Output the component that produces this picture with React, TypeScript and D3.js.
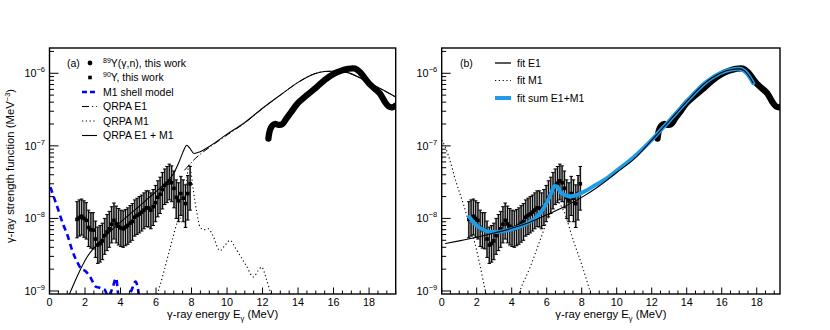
import React from 'react';
import * as d3 from 'd3';

// ---------- data ----------
// 89Y(gamma,n), this work (thick curve)
const gnE = [12.33, 12.42, 12.55, 12.7, 12.9, 13.1, 13.35, 13.6, 14.0, 14.5, 15.0, 15.5, 16.0, 16.4, 16.8, 17.2, 17.5, 17.8, 18.0, 18.3, 18.6, 18.9, 19.1, 19.3, 19.5];
const gnV = [1.26e-7, 1.65e-7, 1.9e-7, 2.0e-7, 1.95e-7, 1.98e-7, 2.4e-7, 2.9e-7, 3.9e-7, 5.0e-7, 6.3e-7, 8.1e-7, 9.8e-7, 1.08e-6, 1.15e-6, 1.16e-6, 1.03e-6, 8.3e-7, 7.2e-7, 6.2e-7, 5.3e-7, 4.0e-7, 3.5e-7, 3.4e-7, 3.6e-7];

// 90Y, this work (units of 1e-9 MeV^-3)
const yE = [1.55, 1.68, 1.81, 1.94, 2.07, 2.2, 2.33, 2.46, 2.59, 2.72, 2.85, 2.98, 3.11, 3.24, 3.37, 3.5, 3.63, 3.76, 3.89, 4.02, 4.15, 4.28, 4.41, 4.54, 4.67, 4.8, 4.93, 5.06, 5.19, 5.32, 5.45, 5.58, 5.71, 5.84, 5.97, 6.1, 6.23, 6.36, 6.49, 6.62, 6.75, 6.88, 7.01, 7.14, 7.27, 7.4, 7.53, 7.66, 7.79, 7.92];
const yV = [9.7, 10.3, 10.7, 10.0, 9.4, 7.5, 7.0, 6.9, 5.2, 4.3, 4.5, 4.9, 5.8, 6.5, 7.2, 8.3, 9.4, 8.4, 7.8, 7.4, 7.2, 7.6, 8.0, 8.6, 9.1, 10.4, 11.0, 11.5, 12.2, 13.0, 14.0, 13.9, 13.0, 14.5, 16.5, 19.5, 21.5, 25, 28.5, 30.5, 33, 31, 26, 19.5, 17.5, 22, 19, 16, 22, 30];
const yUp = [17, 18, 18.5, 17.5, 16.5, 13, 12, 12, 9.2, 7.6, 8, 8.6, 10, 11.3, 12.5, 14.5, 16.3, 14.8, 13.7, 13, 12.7, 13.3, 14, 15, 16, 18, 19, 20, 21, 22.5, 24, 24, 22.5, 25, 28.5, 33, 37, 43, 48, 52, 56, 53, 45, 34, 31, 38, 34, 29, 39, 52];
const yLo = [5.4, 5.7, 5.9, 5.5, 5.2, 4.1, 3.9, 3.8, 2.9, 2.4, 2.5, 2.7, 3.2, 3.6, 4.0, 4.6, 5.2, 4.6, 4.3, 4.1, 4.0, 4.2, 4.4, 4.7, 5.0, 5.7, 6.0, 6.3, 6.7, 7.2, 7.7, 7.6, 7.2, 8.0, 9.0, 10.5, 11.7, 13.5, 15.5, 16.5, 18, 17, 14, 10, 9, 11, 9, 7.5, 9.5, 13];
const UNIT = 1e-9;

// M1 shell model
const smE = [0.05, 0.3, 0.5, 0.75, 1.0, 1.3, 1.6, 1.8, 2.0, 2.3, 2.6, 2.9, 3.1, 3.3, 3.55, 3.75, 3.9, 4.4, 4.6, 4.85, 5.05];
const smV = [2.7e-8, 1.8e-8, 1.3e-8, 8.5e-9, 6.0e-9, 3.5e-9, 2.4e-9, 2.0e-9, 1.9e-9, 1.55e-9, 1.15e-9, 1.1e-9, 1.05e-9, 0.85e-9, 1.1e-9, 1.5e-9, 0.85e-9, 0.85e-9, 1.0e-9, 1.35e-9, 0.85e-9];

// QRPA E1
const qE1E = [7.6, 7.85, 8.1, 8.5, 9.0, 10.0, 11.0, 12.0, 13.0, 14.0, 14.9, 15.5, 16.2, 16.8, 17.5, 18.0, 18.6, 19.5];
const qE1V = [4.6e-8, 5.4e-8, 6.3e-8, 7.7e-8, 9.5e-8, 1.41e-7, 2.07e-7, 3.28e-7, 5.0e-7, 7.5e-7, 9.8e-7, 1.06e-6, 1.07e-6, 1.02e-6, 8.6e-7, 7.3e-7, 6.2e-7, 4.7e-7];

// QRPA M1
const qM1E = [6.0, 6.13, 6.4, 6.7, 7.0, 7.17, 7.45, 7.6, 7.73, 7.87, 7.97, 8.1, 8.3, 8.48, 8.7, 8.95, 9.2, 9.6, 9.9, 10.17, 10.45, 10.73, 11.1, 11.48, 11.75, 11.95, 12.2, 12.42, 12.6];
const qM1V = [0.8e-9, 1.0e-9, 1.7e-9, 3.2e-9, 6.0e-9, 8.5e-9, 1.1e-8, 1.8e-8, 3.4e-8, 5.7e-8, 4.3e-8, 2.45e-8, 1.2e-8, 7.6e-9, 7.0e-9, 7.2e-9, 5.8e-9, 3.6e-9, 4.3e-9, 5.0e-9, 4.0e-9, 3.1e-9, 2.2e-9, 1.56e-9, 1.9e-9, 2.14e-9, 1.5e-9, 1.0e-9, 0.7e-9];

// QRPA E1 + M1
const qSumE = [1.12, 1.4, 1.72, 2.1, 2.56, 3.0, 3.5, 4.0, 4.5, 5.1, 5.6, 6.1, 6.6, 7.0, 7.26, 7.5, 7.73, 7.9, 8.14, 8.48, 9.0, 10.0, 11.0, 12.0, 13.0, 14.0, 14.9, 15.5, 16.2, 16.8, 17.5, 18.0, 18.6, 19.5];
const qSumV = [0.9e-9, 1.3e-9, 1.93e-9, 2.9e-9, 4.05e-9, 5.3e-9, 6.9e-9, 8.9e-9, 1.13e-8, 1.5e-8, 1.93e-8, 2.45e-8, 3.18e-8, 4.2e-8, 5.7e-8, 8.0e-8, 1.02e-7, 9.3e-8, 7.85e-8, 8.3e-8, 9.8e-8, 1.45e-7, 2.1e-7, 3.3e-7, 5.0e-7, 7.5e-7, 9.8e-7, 1.06e-6, 1.07e-6, 1.02e-6, 8.6e-7, 7.3e-7, 6.2e-7, 4.7e-7];

// fit E1 (panel b)
const fE1E = [0.2, 1.0, 2.0, 3.0, 4.0, 5.0, 6.0, 7.0, 8.0, 9.0, 10.0, 11.0, 12.0, 13.0, 14.0, 15.0, 15.9, 16.5, 17.0, 17.3, 17.6, 17.8];
const fE1V = [4.5e-9, 4.9e-9, 5.5e-9, 6.3e-9, 7.3e-9, 8.8e-9, 1.12e-8, 1.45e-8, 1.95e-8, 2.8e-8, 4.3e-8, 6.6e-8, 1.2e-7, 2.2e-7, 4.1e-7, 7.2e-7, 1.0e-6, 1.12e-6, 1.15e-6, 1.08e-6, 8.8e-7, 7.3e-7];

// fit M1 (panel b): low-energy upbend and spin-flip bump
const fM1aE = [0.0, 0.19, 0.47, 0.8, 1.23, 1.6, 1.9, 2.2, 2.47, 2.6];
const fM1aV = [1.2e-7, 9.8e-8, 6.3e-8, 3.3e-8, 1.6e-8, 8.0e-9, 4.5e-9, 2.2e-9, 1.07e-9, 0.8e-9];
const fM1bE = [4.3, 4.47, 5.04, 5.62, 6.19, 6.55, 6.95, 7.52, 8.1, 8.47, 8.6];
const fM1bV = [0.75e-9, 1.0e-9, 2.1e-9, 5.0e-9, 1.17e-8, 1.75e-8, 1.3e-8, 5.0e-9, 1.95e-9, 1.0e-9, 0.8e-9];

// fit sum E1+M1 (panel b)
const fSumE = [1.58, 1.8, 2.0, 2.38, 2.76, 3.2, 3.52, 4.0, 4.47, 5.0, 5.43, 5.75, 6.0, 6.25, 6.45, 6.6, 6.76, 6.95, 7.14, 7.35, 7.6, 7.9, 8.29, 8.8, 9.43, 10.0, 11.0, 12.0, 13.0, 14.0, 15.0, 15.9, 16.5, 17.0, 17.3, 17.6, 17.8];
const fSumV = [1.05e-8, 8.9e-9, 7.9e-9, 7.0e-9, 6.5e-9, 6.5e-9, 6.7e-9, 7.1e-9, 7.7e-9, 8.9e-9, 1.05e-8, 1.3e-8, 1.65e-8, 2.2e-8, 2.8e-8, 2.75e-8, 2.35e-8, 2.15e-8, 2.05e-8, 2.02e-8, 2.05e-8, 2.2e-8, 2.45e-8, 2.9e-8, 3.55e-8, 4.55e-8, 7.1e-8, 1.21e-7, 2.21e-7, 4.1e-7, 7.2e-7, 1.0e-6, 1.12e-6, 1.15e-6, 1.08e-6, 8.8e-7, 7.3e-7];

const xTickVals = [0, 2, 4, 6, 8, 10, 12, 14, 16, 18];
const yDecades = [-9, -8, -7, -6];

const legendA = ['Y(γ,n), this work', 'Y, this work', 'M1 shell model', 'QRPA E1', 'QRPA M1', 'QRPA E1 + M1'];
const legendASup = ['89', '90', '', '', '', ''];
const legendB = ['fit E1', 'fit M1', 'fit sum E1+M1'];

// ---------- layout ----------
const W = 830, H = 330;
const TOP = 48, BOTTOM = 294;
const FONT = "'Liberation Sans', Arial, Helvetica, sans-serif";
const BLUE = '#0000ff';
const AZURE = '#1e9ce8';

const yScale = d3.scaleLog().domain([0.909e-9, 2.23e-6]).range([BOTTOM, TOP]);
const xA = d3.scaleLinear().domain([0, 19.5]).range([49.5, 395.7]);
const xB = d3.scaleLinear().domain([0, 19.33]).range([441.7, 780]);

const zip = (xs: number[], ys: number[]) => xs.map((x, i) => [x, ys[i]] as [number, number]);

function mkLine(xs: any, curve: any = d3.curveMonotoneX) {
  return d3.line<[number, number]>().x(d => xs(d[0])).y(d => yScale(d[1])).curve(curve);
}

function Axes({ xs }: { xs: any }) {
  const [a, b] = xs.range();
  const xmax = xs.domain()[1];
  const minorX = d3.range(0, xmax + 1e-9, 0.5).filter(v => Math.abs(v / 2 - Math.round(v / 2)) > 1e-6);
  const [ymin, ymax] = yScale.domain();
  const minorY: number[] = [];
  for (const d of [-10, -9, -8, -7, -6]) {
    for (let k = 2; k <= 9; k++) {
      const v = k * Math.pow(10, d);
      if (v > ymin && v < ymax) minorY.push(v);
    }
  }
  return (
    <g>
      {xTickVals.map(t => (
        <g key={'xt' + t}>
          <line x1={xs(t)} x2={xs(t)} y1={BOTTOM} y2={BOTTOM - 6.5} stroke="#000" strokeWidth={1} />
          <text x={xs(t)} y={305.5} fontSize={10.8} textAnchor="middle" fontFamily={FONT}>{t}</text>
        </g>
      ))}
      {minorX.map(t => (
        <line key={'xm' + t} x1={xs(t)} x2={xs(t)} y1={BOTTOM} y2={BOTTOM - 3.5} stroke="#000" strokeWidth={1} />
      ))}
      {yDecades.map(d => {
        const y = yScale(Math.pow(10, d));
        return (
          <g key={'yd' + d}>
            <line x1={a} x2={a + 9} y1={y} y2={y} stroke="#000" strokeWidth={1} />
            <text x={a - 4.5} y={y + 4} fontSize={10.8} textAnchor="end" fontFamily={FONT}>
              <tspan>10</tspan>
              <tspan dy={-5} fontSize={7.5}>{'−' + Math.abs(d)}</tspan>
            </text>
          </g>
        );
      })}
      {minorY.map(v => (
        <line key={'ym' + v} x1={a} x2={a + 4.5} y1={yScale(v)} y2={yScale(v)} stroke="#000" strokeWidth={1} />
      ))}
      <rect x={a} y={TOP} width={b - a} height={BOTTOM - TOP} fill="none" stroke="#000" strokeWidth={1.4} />
      <text x={(a + b) / 2} y={318} fontSize={11.3} textAnchor="middle" fontFamily={FONT}>
        <tspan>γ-ray energy E</tspan>
        <tspan dy={3} fontSize={7.5}>γ</tspan>
        <tspan dy={-3}> (MeV)</tspan>
      </text>
    </g>
  );
}

function DataPoints({ xs }: { xs: any }) {
  const halfBox = (xs(0.13) - xs(0)) * 0.42;
  return (
    <g>
      {yE.map((e, i) => {
        const x = xs(e);
        const yu = yScale(yUp[i] * UNIT);
        const yl = yScale(yLo[i] * UNIT);
        return (
          <rect key={'b' + i} x={x - halfBox} y={yu} width={halfBox * 2} height={yl - yu} fill="#7f7f7f" />
        );
      })}
      {yE.map((e, i) => {
        const x = xs(e);
        const yu = yScale(yUp[i] * UNIT);
        const yl = yScale(yLo[i] * UNIT);
        return (
          <g key={'e' + i} stroke="#000" strokeWidth={1}>
            <line x1={x} x2={x} y1={yu} y2={yl} />
            <line x1={x - 1.8} x2={x + 1.8} y1={yu} y2={yu} />
            <line x1={x - 1.8} x2={x + 1.8} y1={yl} y2={yl} />
          </g>
        );
      })}
      {yE.map((e, i) => (
        <rect key={'m' + i} x={xs(e) - 1.8} y={yScale(yV[i] * UNIT) - 1.8} width={3.6} height={3.6} fill="#000" />
      ))}
    </g>
  );
}

export default function App() {
  const lineA = mkLine(xA);
  const lineB = mkLine(xB);
  const thickA = mkLine(xA, d3.curveCatmullRom);
  const thickB = mkLine(xB, d3.curveCatmullRom);
  const [aL, aR] = xA.range();
  const [bL, bR] = xB.range();
  const rowsA = [63, 77.5, 92, 106.5, 121, 135.5];
  const rowsB = [63, 80.5, 98];
  return (
    <svg width={W} height={H} style={{ position: 'absolute', left: 0, top: 0, background: '#fff' }} fontFamily={FONT}>
      <defs>
        <clipPath id="clipA"><rect x={aL} y={TOP} width={aR - aL} height={BOTTOM - TOP} /></clipPath>
        <clipPath id="clipB"><rect x={bL} y={TOP} width={bR - bL} height={BOTTOM - TOP} /></clipPath>
      </defs>
      <rect x={0} y={0} width={W} height={H} fill="#fff" />

      {/* ---------- panel (a) ---------- */}
      <g clipPath="url(#clipA)">
        <path d={lineA(zip(smE, smV)) || ''} fill="none" stroke={BLUE} strokeWidth={2.6} strokeDasharray="6,4" />
        <path d={lineA(zip(qM1E, qM1V)) || ''} fill="none" stroke="#000" strokeWidth={1.1} strokeDasharray="1.2,2.6" />
        <DataPoints xs={xA} />
        <path d={lineA(zip(qE1E, qE1V)) || ''} fill="none" stroke="#000" strokeWidth={1} strokeDasharray="7,2.5,1.2,2.5" />
        <path d={lineA(zip(qSumE, qSumV)) || ''} fill="none" stroke="#000" strokeWidth={1.1} />
        <path d={thickA(zip(gnE, gnV)) || ''} fill="none" stroke="#000" strokeWidth={6.3} strokeLinecap="round" strokeLinejoin="round" />
      </g>
      <Axes xs={xA} />
      <text x={14} y={166} fontSize={11.3} textAnchor="middle" transform="rotate(-90 14 166)" fontFamily={FONT}>
        <tspan>γ-ray strength function (MeV</tspan>
        <tspan dy={-4.5} fontSize={7.5}>−3</tspan>
        <tspan dy={4.5}>)</tspan>
      </text>

      {/* legend (a) */}
      <g fontSize={10.5} fontFamily={FONT}>
        <text x={67} y={rowsA[0] + 3.8}>(a)</text>
        <circle cx={90} cy={rowsA[0]} r={2.4} fill="#000" />
        <rect x={88.2} y={rowsA[1] - 1.8} width={3.6} height={3.6} fill="#000" />
        <line x1={82} x2={96} y1={rowsA[2]} y2={rowsA[2]} stroke={BLUE} strokeWidth={2.6} strokeDasharray="5,3" />
        <line x1={82} x2={97} y1={rowsA[3]} y2={rowsA[3]} stroke="#000" strokeWidth={1} strokeDasharray="7,3,1.2,3" />
        <line x1={82} x2={97} y1={rowsA[4]} y2={rowsA[4]} stroke="#000" strokeWidth={1.1} strokeDasharray="1.2,2.6" />
        <line x1={82} x2={97} y1={rowsA[5]} y2={rowsA[5]} stroke="#000" strokeWidth={1.1} />
        {legendA.map((t, i) => (
          <text key={'la' + i} x={103} y={rowsA[i] + 3.8}>
            {legendASup[i] ? <tspan fontSize={7} dy={-4}>{legendASup[i]}</tspan> : null}
            {legendASup[i] ? <tspan dy={4}>{t}</tspan> : <tspan>{t}</tspan>}
          </text>
        ))}
      </g>

      {/* ---------- panel (b) ---------- */}
      <g clipPath="url(#clipB)">
        <path d={lineB(zip(fM1aE, fM1aV)) || ''} fill="none" stroke="#000" strokeWidth={1.1} strokeDasharray="1.2,2.6" />
        <path d={lineB(zip(fM1bE, fM1bV)) || ''} fill="none" stroke="#000" strokeWidth={1.1} strokeDasharray="1.2,2.6" />
        <DataPoints xs={xB} />
        <path d={thickB(zip(gnE, gnV)) || ''} fill="none" stroke="#000" strokeWidth={6.3} strokeLinecap="round" strokeLinejoin="round" />
        <path d={lineB(zip(fSumE, fSumV)) || ''} fill="none" stroke={AZURE} strokeWidth={4} strokeLinecap="round" />
        <path d={lineB(zip(fE1E, fE1V)) || ''} fill="none" stroke="#000" strokeWidth={1.1} />
      </g>
      <Axes xs={xB} />

      {/* legend (b) */}
      <g fontSize={10.5} fontFamily={FONT}>
        <text x={460} y={rowsB[0] + 3.8}>(b)</text>
        <line x1={495} x2={511} y1={rowsB[0]} y2={rowsB[0]} stroke="#000" strokeWidth={1.3} />
        <line x1={495} x2={511} y1={rowsB[1]} y2={rowsB[1]} stroke="#000" strokeWidth={1.1} strokeDasharray="1.2,2.6" />
        <line x1={495} x2={511} y1={rowsB[2]} y2={rowsB[2]} stroke={AZURE} strokeWidth={4} />
        {legendB.map((t, i) => (
          <text key={'lb' + i} x={517} y={rowsB[i] + 3.8}>{t}</text>
        ))}
      </g>
    </svg>
  );
}
